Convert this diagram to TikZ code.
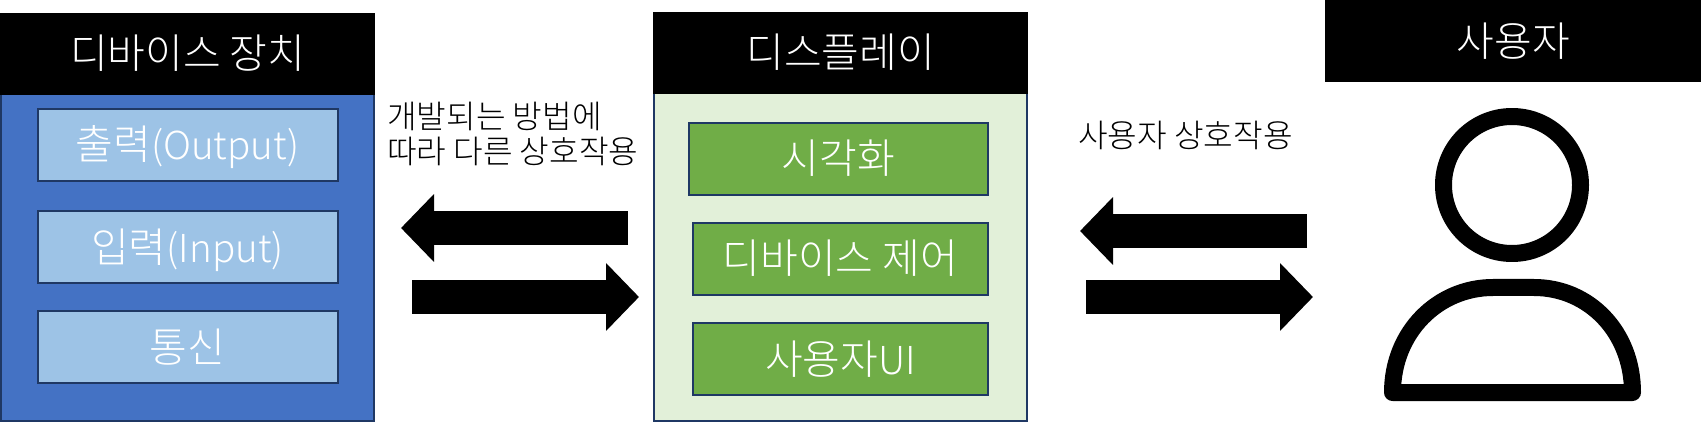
\documentclass[tikz,border=0pt]{standalone}
\usepackage{fontspec}
\setmainfont{Noto Sans CJK KR Light}
\usetikzlibrary{arrows.meta,positioning}
\definecolor{vline}{HTML}{1F3864}
\definecolor{vblue}{HTML}{4472C4}
\definecolor{vsky}{HTML}{9DC3E6}
\definecolor{vpale}{HTML}{E2F0D9}
\definecolor{vgreen}{HTML}{70AD47}
\tikzset{
  head/.style={fill=black,text=white,inner sep=0pt,text height=36pt,text depth=6pt,font=\fontsize{41}{46}\selectfont},
  panel/.style={draw=vline,line width=2pt,inner sep=0pt},
  item/.style={draw=vline,line width=2pt,inner sep=0pt,text=white,minimum height=72pt,text height=36pt,text depth=6pt,font=\fontsize{41}{46}\selectfont},
  lbl/.style={inner sep=0pt,align=left,font=\fontsize{32.2}{35}\selectfont},
  bigarr/.style={-{Triangle[length=33pt,width=66pt]},line width=34pt,draw=black},
  icon/.style={draw=black,line width=17pt,line join=round},
}
\newcommand{\latn}[1]{{\fontsize{38.5}{46}\selectfont #1}}
\begin{document}
\begin{tikzpicture}[x=1pt,y=-1pt]
\useasboundingbox (0,0) rectangle (1701,422);
% device column
\node[panel, fill=vblue, minimum width=373pt, minimum height=327pt, anchor=north west] (dev) at (0,93) {};
\node[head, minimum width=375pt, minimum height=82pt, anchor=south west] (devh) at (0,95) {디바이스 장치};
\node[item, fill=vsky, minimum width=300pt, anchor=north west] (out) at (36.5,108) {출력\latn{(Output)}};
\node[item, fill=vsky, minimum width=300pt, below=28pt of out] (inp) {입력\latn{(Input)}};
\node[item, fill=vsky, minimum width=300pt, below=26pt of inp] (com) {통신};
% display column
\node[panel, fill=vpale, minimum width=373pt, minimum height=328pt, anchor=north west] (dis) at (653,92) {};
\node[head, minimum width=375pt, minimum height=82pt, anchor=south west] (dish) at (653,94) {디스플레이};
\node[item, fill=vgreen, minimum width=299pt, anchor=north west] (vis) at (688,122) {시각화};
\node[item, fill=vgreen, minimum width=295pt, anchor=north east] (ctl) at (989,222) {디바이스 제어};
\node[item, fill=vgreen, minimum width=295pt, below=26pt of ctl] (ui) {사용자\latn{UI}};
% user column
\node[head, minimum width=376pt, minimum height=82pt, anchor=north west] (usr) at (1325,0) {사용자};
\node[icon, circle, minimum size=137pt, inner sep=0pt, outer sep=0pt] (face) at (1512,185) {};
\draw[icon] (1392.5,392.5) .. controls (1392.5,332) and (1438,287.5) .. (1493,287.5) -- (1534,287.5)
  .. controls (1589,287.5) and (1632.5,332) .. (1632.5,392.5) -- cycle;
% labels
\node[lbl, anchor=west] (lab1) at (387,134) {개발되는 방법에\\따라 다른 상호작용};
\node[lbl, anchor=west] (lab2) at (1078,135) {사용자 상호작용};
% arrows
\coordinate (a1) at (628,228);
\coordinate (a2) at (401,228);
\coordinate (b1) at (412,297);
\coordinate (b2) at (639,297);
\coordinate (c1) at (1307,231);
\coordinate (c2) at (1080,231);
\coordinate (d1) at (1086,297);
\coordinate (d2) at (1313,297);
\draw[bigarr] (a1) -- (a2);
\draw[bigarr] (b1) -- (b2);
\draw[bigarr] (c1) -- (c2);
\draw[bigarr] (d1) -- (d2);
\end{tikzpicture}
\end{document}
